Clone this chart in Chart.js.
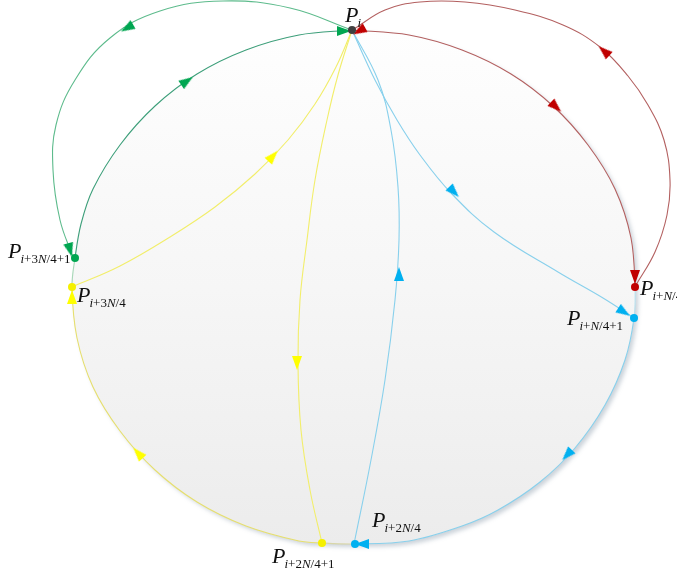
<!DOCTYPE html>
<html>
<head>
<meta charset="utf-8">
<script src="https://cdn.jsdelivr.net/npm/chart.js@4.4.1/dist/chart.umd.min.js"></script>
<style>
  html, body { margin: 0; padding: 0; background: #fff; }
  #wrap { width: 677px; height: 580px; }
</style>
</head>
<body>
<div id="wrap"><canvas id="ringChart" width="677" height="580"></canvas></div>
<script>
// ring through the nodes, clockwise from P_i
var ringPts = [[352, 30], [409, 35], [462, 50], [511, 74], [553, 106], [588, 145], [615, 189], [631, 238],
  [635, 287], [634, 318], [625, 360], [605, 405], [575, 448], [540, 482], [498, 510], [462, 526], [409, 541],
  [355, 544], [322, 543], [299, 541], [246, 526], [197, 502], [155, 470], [120, 431], [93, 387], [77, 338],
  [72, 287], [75, 258], [81, 224], [93, 189], [120, 145], [155, 106], [197, 74], [246, 50], [299, 35], [352, 30]];
var ringRed = "#b36060", ringBlue = "#88d0ec", ringYellow = "#e6df6e", ringGreen = "#3d9f7a";
var ringColors = [ringRed, ringRed, ringRed, ringRed, ringRed, ringRed, ringRed, ringRed, "#b8e0ee",
  ringBlue, ringBlue, ringBlue, ringBlue, ringBlue, ringBlue, ringBlue, ringBlue, "#d8d6a8",
  ringYellow, ringYellow, ringYellow, ringYellow, ringYellow, ringYellow, ringYellow, ringYellow, "#a8d8b8",
  ringGreen, ringGreen, ringGreen, ringGreen, ringGreen, ringGreen, ringGreen, ringGreen];

// the curves
var greenOuter = [[352, 30], [290, 8], [223, 1], [160, 11], [110, 38], [75, 80], [56, 125], [53, 170], [60, 220], [73, 257]];
var redOuter = [[636, 285], [655, 252], [667, 215], [670, 180], [664, 140], [648, 105], [628, 76], [600, 47], [563, 25], [515, 10], [465, 2], [420, 2], [385, 10], [354, 29]];
var blueOut = [[352, 30], [375, 80], [397, 120], [420, 155], [451, 193], [494, 232], [558, 272], [603, 298], [634, 318]];
var blueBack = [[354, 544], [371, 460], [385, 380], [395, 300], [399, 240], [398, 187], [391, 130], [378, 80], [352, 30]];
var yellowOut = [[352, 30], [338, 75], [327, 120], [315, 180], [307, 240], [300, 300], [298, 363], [301, 430], [310, 490], [322, 543]];
var yellowBack = [[72, 287], [120, 266], [170, 237], [215, 207], [255, 174], [288, 140], [315, 104], [336, 67], [352, 30]];

// arrow heads: position + heading (deg, clockwise from up)
var greenArrows = [[127, 28], [70, 250], [187, 81], [344, 31]];
var greenHeads = [240, 165, 56, 90];
var redArrows = [[604, 51], [359, 31], [556, 107], [635, 277]];
var redHeads = [312, 241, 133, 180];
var blueArrows = [[454, 192], [624, 312], [567, 455], [362, 544], [399, 274]];
var blueHeads = [136, 123, 223, 270, 0];
var yellowArrows = [[297, 363], [273, 156], [138, 453], [72, 297]];
var yellowHeads = [180, 42, 318, 0];

// nodes
var nodePts = [[352, 30], [635, 287], [634, 318], [355, 544], [322, 543], [72, 287], [75, 258]];
var nodeSubs = ["i", "i+N/4", "i+N/4+1", "i+2N/4", "i+2N/4+1", "i+3N/4", "i+3N/4+1"];
var nodeColors = ["#404040", "#c00000", "#00b0f0", "#00b0f0", "#f5f000", "#f5f000", "#00a651"];
var labelOffsets = [[-7, -8], [5, 8], [-67, 7], [17, -17], [-50, 20], [5, 15], [-67, 0]];

function xy(list) {
  return list.map(function (p) { return { x: p[0], y: p[1] }; });
}

function arrowImage(color) {
  var c = document.createElement("canvas");
  c.width = 12; c.height = 16;
  var g = c.getContext("2d");
  g.fillStyle = color;
  g.beginPath();
  g.moveTo(6, 1);
  g.lineTo(11, 15);
  g.lineTo(1, 15);
  g.closePath();
  g.fill();
  return c;
}

function curve(data, color, width) {
  return {
    data: xy(data),
    showLine: true,
    borderColor: color,
    borderWidth: width || 1.1,
    tension: 0.4,
    pointRadius: 0,
    fill: false,
    clip: false,
    order: 5
  };
}

function arrows(data, heads, color) {
  return {
    data: xy(data),
    showLine: false,
    pointStyle: arrowImage(color),
    pointRadius: 6,
    pointRotation: heads,
    clip: false,
    order: 2
  };
}

// follow the ring's own spline (control points computed by chart.js)
function traceRing(ctx, pts) {
  ctx.moveTo(pts[0].x, pts[0].y);
  for (var i = 1; i < pts.length; i++) {
    var a = pts[i - 1], b = pts[i];
    if (a.cp2x === undefined || b.cp1x === undefined) {
      ctx.lineTo(b.x, b.y);
    } else {
      ctx.bezierCurveTo(a.cp2x, a.cp2y, b.cp1x, b.cp1y, b.x, b.y);
    }
  }
  ctx.closePath();
}

// grey gradient disc with a soft shadow, drawn under everything
var ringFill = {
  id: "ringFill",
  beforeDatasetsDraw: function (chart) {
    var pts = chart.getDatasetMeta(0).data;
    var ctx = chart.ctx;
    var top = chart.scales.y.getPixelForValue(30);
    var bottom = chart.scales.y.getPixelForValue(545);
    ctx.save();
    ctx.shadowColor = "rgba(110,130,150,0.35)";
    ctx.shadowBlur = 4;
    ctx.shadowOffsetX = 3;
    ctx.shadowOffsetY = 3;
    ctx.beginPath();
    traceRing(ctx, pts);
    ctx.fillStyle = "#f0f0f0";
    ctx.fill();
    ctx.restore();

    ctx.save();
    var g = ctx.createLinearGradient(0, top, 0, bottom);
    g.addColorStop(0, "#fefefe");
    g.addColorStop(0.5, "#f6f6f6");
    g.addColorStop(1, "#ececec");
    ctx.beginPath();
    traceRing(ctx, pts);
    ctx.fillStyle = g;
    ctx.fill();
    ctx.restore();
  }
};

var nodeLabels = {
  id: "nodeLabels",
  afterDatasetsDraw: function (chart) {
    var ctx = chart.ctx;
    var sx = chart.scales.x, sy = chart.scales.y;
    ctx.save();
    ctx.fillStyle = "#111";
    ctx.textBaseline = "alphabetic";
    nodePts.forEach(function (p, i) {
      var x = sx.getPixelForValue(p[0]) + labelOffsets[i][0];
      var y = sy.getPixelForValue(p[1]) + labelOffsets[i][1];
      ctx.font = 'italic 22px "Liberation Serif"';
      ctx.fillText("P", x, y);
      var cx = x + ctx.measureText("P").width - 1;
      var cy = y + 5;
      nodeSubs[i].split("").forEach(function (ch) {
        ctx.font = (/[A-Za-z]/.test(ch) ? "italic " : "") + '13px "Liberation Serif"';
        ctx.fillText(ch, cx, cy);
        cx += ctx.measureText(ch).width;
      });
    });
    ctx.restore();
  }
};

var ctx = document.getElementById("ringChart");
if (ctx) {
  var ringChart = new Chart(ctx, {
    type: "scatter",
    data: {
      datasets: [
        {
          data: xy(ringPts),
          showLine: true,
          tension: 0.34,
          borderWidth: 1.1,
          borderColor: "#bbbbbb",
          segment: {
            borderColor: function (c) { return ringColors[c.p0DataIndex]; }
          },
          pointRadius: 0,
          fill: false,
          clip: false,
          order: 10
        },
        curve(greenOuter, "#5dbb8c"),
        curve(redOuter, "#b36060"),
        curve(blueOut, "#88d0ec"),
        curve(blueBack, "#88d0ec"),
        curve(yellowOut, "#f2ee6a"),
        curve(yellowBack, "#f2ee6a"),
        arrows(greenArrows, greenHeads, "#00a651"),
        arrows(redArrows, redHeads, "#c00000"),
        arrows(blueArrows, blueHeads, "#00b0f0"),
        arrows(yellowArrows, yellowHeads, "#ffff00"),
        {
          data: xy(nodePts),
          showLine: false,
          pointRadius: 4,
          pointBackgroundColor: nodeColors,
          pointBorderWidth: 0,
          clip: false,
          order: 1
        }
      ]
    },
    options: {
      responsive: false,
      animation: false,
      layout: { padding: 0, autoPadding: false },
      plugins: {
        legend: { display: false },
        tooltip: { enabled: false }
      },
      scales: {
        x: { type: "linear", min: 0, max: 677, display: false },
        y: { type: "linear", min: 0, max: 580, reverse: true, display: false }
      }
    },
    plugins: [ringFill, nodeLabels]
  });
}
</script>
</body>
</html>
